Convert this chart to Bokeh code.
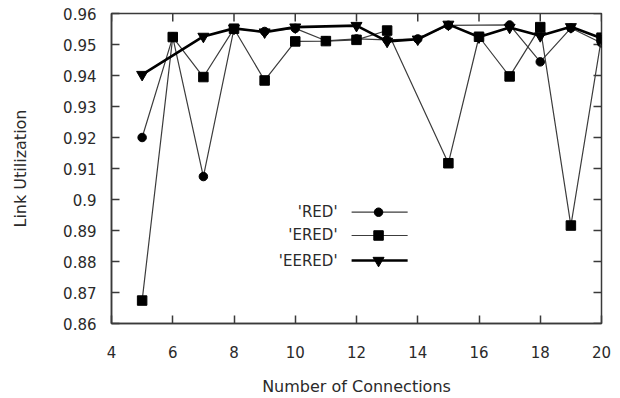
from bokeh.plotting import figure
from bokeh.models import Range1d, FixedTicker, Label
from bokeh.embed import file_html
from bokeh.resources import INLINE

# ---- data ----
x_red = [5, 6, 7, 8, 9, 10, 11, 12, 13, 14, 15, 17, 18, 19, 20]
red = [0.9200, 0.9524, 0.9074, 0.9551, 0.9542, 0.9552, 0.9512, 0.9518, 0.9515,
       0.9518, 0.9562, 0.9563, 0.9444, 0.9553, 0.9505]

x_ered = [5, 6, 7, 8, 9, 10, 11, 12, 13, 15, 16, 17, 18, 19, 20]
ered = [0.8674, 0.9524, 0.9395, 0.9551, 0.9384, 0.9510, 0.9511, 0.9515, 0.9545,
        0.9117, 0.9525, 0.9397, 0.9556, 0.8916, 0.9522]

x_eered = [5, 7, 8, 9, 10, 12, 13, 14, 15, 16, 17, 18, 19, 20]
eered = [0.9403, 0.9526, 0.9552, 0.9540, 0.9556, 0.9561, 0.9510, 0.9517, 0.9565,
         0.9524, 0.9555, 0.9528, 0.9557, 0.9520]

series_names = ["'RED'", "'ERED'", "'EERED'"]

x_ticks = [4, 6, 8, 10, 12, 14, 16, 18, 20]
y_ticks = [0.86, 0.87, 0.88, 0.89, 0.9, 0.91, 0.92, 0.93, 0.94, 0.95, 0.96]
y_tick_labels = ["0.86", "0.87", "0.88", "0.89", "0.9", "0.91", "0.92", "0.93",
                 "0.94", "0.95", "0.96"]

X0, X1 = 4, 20
Y0, Y1 = 0.86, 0.96
FW, FH = 490, 310

FONT = "DejaVu Sans"
TXT = "#2a2a2a"
AX = "#3a3a3a"

p = figure(frame_width=FW, frame_height=FH,
           x_range=Range1d(X0, X1), y_range=Range1d(Y0, Y1),
           output_backend="svg", toolbar_location=None,
           min_border_left=111, min_border_right=12,
           min_border_top=13, min_border_bottom=74,
           background_fill_color="white", border_fill_color="white")

p.xgrid.visible = False
p.ygrid.visible = False
p.outline_line_color = AX
p.outline_line_width = 1.5


def style_axis(ax):
    ax.axis_line_color = AX
    ax.axis_line_width = 1.5
    ax.major_tick_line_color = AX
    ax.major_tick_line_width = 1.5
    ax.major_tick_in = 8
    ax.major_tick_out = 0
    ax.minor_tick_line_color = None
    ax.major_label_text_font = FONT
    ax.major_label_text_color = TXT
    ax.major_label_text_font_size = "15px"
    ax.axis_label_text_font = FONT
    ax.axis_label_text_font_style = "normal"
    ax.axis_label_text_color = TXT
    ax.axis_label_text_font_size = "16px"


xax = p.xaxis[0]
yax = p.yaxis[0]
xax.ticker = FixedTicker(ticks=x_ticks)
yax.ticker = FixedTicker(ticks=y_ticks)
yax.major_label_overrides = {t: s for t, s in zip(y_ticks, y_tick_labels)}
style_axis(xax)
style_axis(yax)
xax.axis_label = "Number of Connections"
yax.axis_label = "Link Utilization"
xax.major_label_standoff = 22
xax.axis_label_standoff = 16
yax.major_label_standoff = 15
yax.axis_label_standoff = 30

# mirrored inward ticks on top and right edges (gnuplot style)
tick_len_x = 8 * (X1 - X0) / FW
tick_len_y = 8 * (Y1 - Y0) / FH
p.segment(x0=x_ticks, y0=[Y1] * len(x_ticks), x1=x_ticks,
          y1=[Y1 - tick_len_y] * len(x_ticks), line_color=AX, line_width=1.5)
p.segment(x0=[X1] * len(y_ticks), y0=y_ticks, x1=[X1 - tick_len_x] * len(y_ticks),
          y1=y_ticks, line_color=AX, line_width=1.5)

LINE_THIN = "#3c3c3c"

# RED
p.line(x_red, red, line_color=LINE_THIN, line_width=1.2)
p.scatter(x_red, red, marker="circle", size=8.5, fill_color="black", line_color="black")
# ERED
p.line(x_ered, ered, line_color=LINE_THIN, line_width=1.2)
p.scatter(x_ered, ered, marker="square", size=9.5, fill_color="black", line_color="black")
# EERED
p.line(x_eered, eered, line_color="black", line_width=2.6)
p.scatter(x_eered, eered, marker="inverted_triangle", size=11, fill_color="black",
          line_color="black")

# ---- legend (gnuplot style: label, then sample) ----
leg_text_x = 11.38
leg_x0, leg_x1, leg_xm = 11.84, 13.67, 12.72
leg_ys = [0.8959, 0.88839, 0.88032]
leg_markers = ["circle", "square", "inverted_triangle"]
leg_sizes = [8.5, 9.5, 11]
leg_widths = [1.2, 1.2, 2.6]
leg_colors = [LINE_THIN, LINE_THIN, "black"]
for name, yy, mk, sz, lw, lc in zip(series_names, leg_ys, leg_markers, leg_sizes,
                                     leg_widths, leg_colors):
    p.add_layout(Label(x=leg_text_x, y=yy, text=name, text_align="right",
                       text_baseline="middle", text_font=FONT, text_font_size="15px",
                       text_color=TXT))
    p.segment(x0=[leg_x0], y0=[yy], x1=[leg_x1], y1=[yy], line_color=lc, line_width=lw)
    p.scatter([leg_xm], [yy], marker=mk, size=sz, fill_color="black", line_color="black")

open("out.html", "w").write(file_html(p, INLINE))
